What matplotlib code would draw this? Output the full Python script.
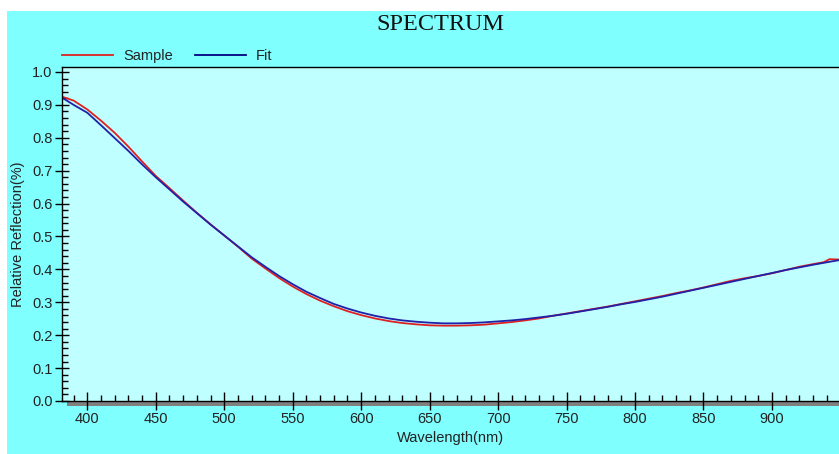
import numpy as np
import matplotlib
matplotlib.use("Agg")
import matplotlib.pyplot as plt
from matplotlib.patches import Rectangle
from matplotlib.ticker import MultipleLocator

# data
wavelength = [381.5, 390, 400, 410, 420, 430, 440, 450, 460, 470, 480, 490,
              500, 510, 520, 530, 540, 550, 560, 570, 580, 590, 600, 610,
              620, 630, 640, 650, 660, 670, 680, 690, 700, 710, 720, 730,
              740, 750, 760, 770, 780, 790, 800, 810, 820, 830, 840, 850,
              860, 870, 880, 890, 900, 910, 920, 930, 938, 942, 949]
sample = [0.925, 0.913, 0.886, 0.852, 0.815, 0.773, 0.728, 0.684, 0.647, 0.609,
          0.572, 0.537, 0.503, 0.469, 0.433, 0.403, 0.374, 0.348, 0.325, 0.305,
          0.288, 0.273, 0.261, 0.251, 0.243, 0.237, 0.233, 0.230, 0.229, 0.229,
          0.230, 0.232, 0.236, 0.240, 0.245, 0.251, 0.259, 0.266, 0.273, 0.280,
          0.287, 0.295, 0.303, 0.311, 0.319, 0.328, 0.336, 0.345, 0.355, 0.365,
          0.373, 0.380, 0.388, 0.398, 0.408, 0.416, 0.422, 0.431, 0.430]
fit = [0.922, 0.900, 0.876, 0.838, 0.799, 0.760, 0.719, 0.680, 0.643, 0.606,
       0.571, 0.536, 0.503, 0.470, 0.437, 0.408, 0.380, 0.355, 0.332, 0.313,
       0.295, 0.281, 0.269, 0.259, 0.251, 0.245, 0.241, 0.238, 0.236, 0.236,
       0.237, 0.239, 0.242, 0.245, 0.249, 0.254, 0.259, 0.265, 0.272, 0.279,
       0.286, 0.294, 0.301, 0.309, 0.317, 0.326, 0.335, 0.344, 0.353, 0.362,
       0.371, 0.380, 0.389, 0.398, 0.406, 0.414, 0.420, 0.423, 0.428]

W, H = 839, 454
fig = plt.figure(figsize=(W / 100, H / 100), dpi=100, facecolor="white")
# cyan panel behind everything (white strip on top and left)
fig.patches.append(Rectangle((7 / W, 0), 1, (H - 11) / H, transform=fig.transFigure,
                             facecolor="#80ffff", edgecolor="none", zorder=-2))
# grey shadow under the x axis
fig.patches.append(Rectangle((67 / W, (H - 406) / H), 1, 5 / H, transform=fig.transFigure,
                             facecolor="#808080", edgecolor="none", zorder=-1))

ax = fig.add_axes([62 / W, (H - 401) / H, 1 - 62 / W, (401 - 66.7) / H])
ax.set_zorder(1)
ax.set_facecolor("#c0ffff")

ax.plot(wavelength, sample, color="#e02020", lw=1.3, label="Sample")
ax.plot(wavelength, fit, color="#2020a8", lw=1.3, label="Fit")

ax.set_xlim(381.5, 949)
ax.set_ylim(0, 1.016)

ax.xaxis.set_major_locator(MultipleLocator(50))
ax.xaxis.set_minor_locator(MultipleLocator(10))
ax.yaxis.set_major_locator(MultipleLocator(0.1))
ax.yaxis.set_minor_locator(MultipleLocator(0.02))
ax.yaxis.set_major_formatter(matplotlib.ticker.FormatStrFormatter("%.1f"))

tick_font = "Liberation Sans"
ax.tick_params(axis="x", which="major", direction="inout", length=13.5, width=1,
               pad=1.5, labelsize=10.5, labelcolor="#222222")
ax.tick_params(axis="x", which="minor", direction="in", length=4.5, width=1)
ax.tick_params(axis="y", which="major", direction="inout", length=10.5, width=1,
               pad=1.5, labelsize=10.5, labelcolor="#222222")
ax.tick_params(axis="y", which="minor", direction="in", length=4.5, width=1)
for lab in ax.get_xticklabels() + ax.get_yticklabels():
    lab.set_fontfamily(tick_font)

ax.spines["right"].set_visible(False)
for s in ["left", "bottom", "top"]:
    ax.spines[s].set_linewidth(1)
    ax.spines[s].set_color("black")

ax.set_xlabel("Wavelength(nm)", fontsize=10.5, family=tick_font, color="#222222")
ax.set_ylabel("Relative Reflection(%)", fontsize=10.5, family=tick_font, color="#222222")
ax.xaxis.set_label_coords(0.5, (401 - 431) / (401 - 66.7))
ax.yaxis.set_label_coords((25 - 62) / (W - 62), 0.5)

leg = ax.legend(loc="lower left", bbox_to_anchor=(62 / W, (H - 63) / H),
                bbox_transform=fig.transFigure, ncol=2, frameon=False,
                handlelength=3.5, handletextpad=0.7, columnspacing=1.5,
                borderpad=0, borderaxespad=0,
                prop={"family": tick_font, "size": 10.5})
for t in leg.get_texts():
    t.set_color("#222222")
leg.get_lines()[1].set_color("#000080")

fig.text(440 / W, (H - 24) / H, "SPECTRUM", ha="center", va="center",
         family="Liberation Serif", fontsize=17.5, color="#111111")

fig.savefig("out.png", dpi=100, facecolor=fig.get_facecolor())
